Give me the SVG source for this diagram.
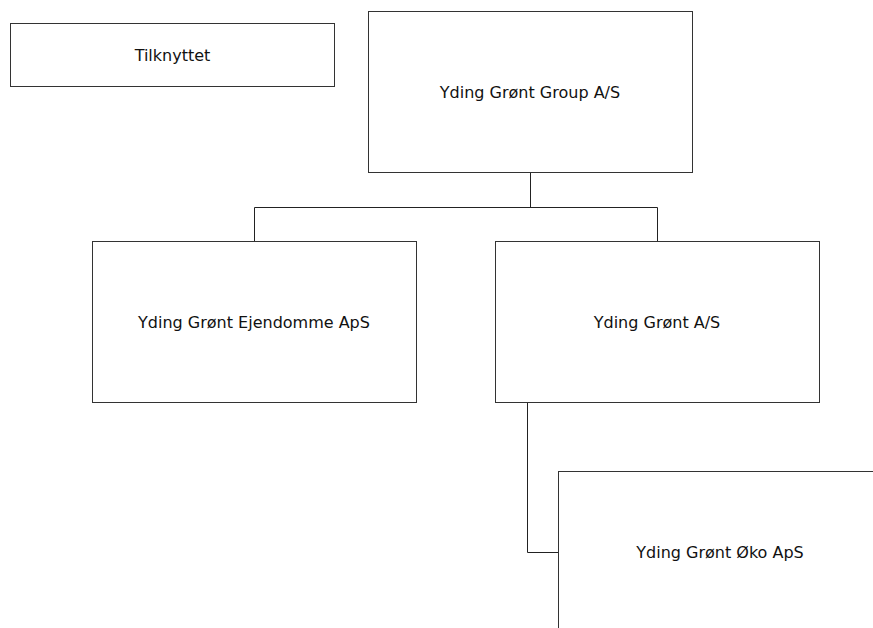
<svg xmlns="http://www.w3.org/2000/svg" width="873" height="628" viewBox="0 0 873 628">
<style>
.box{fill:#ffffff;stroke:#333333;stroke-width:1}
.lbl{font-family:"DejaVu Sans","Liberation Sans",sans-serif;font-size:16px;fill:#111111;text-anchor:middle}
.conn{fill:none;stroke:#222222;stroke-width:1}
</style>
<rect width="873" height="628" fill="#ffffff"/>
<g id="connectors">
<path class="conn" d="M530.5 173 V207.5 M254.5 207.5 H657.5 M254.5 207.5 V241 M657.5 207.5 V241"/>
<path class="conn" d="M527.5 403 V552.5 H558.5"/>
</g>
<g id="tilknyttet">
<rect class="box" x="10.5" y="23.5" width="324" height="63"/>
<text class="lbl" x="172.5" y="61">Tilknyttet</text>
</g>
<g id="group">
<rect class="box" x="368.5" y="11.5" width="324" height="161"/>
<text class="lbl" x="530" y="98">Yding Grønt Group A/S</text>
</g>
<g id="ejendomme">
<rect class="box" x="92.5" y="241.5" width="324" height="161"/>
<text class="lbl" x="254" y="328">Yding Grønt Ejendomme ApS</text>
</g>
<g id="ydinggront">
<rect class="box" x="495.5" y="241.5" width="324" height="161"/>
<text class="lbl" x="657" y="328">Yding Grønt A/S</text>
</g>
<g id="oko">
<rect class="box" x="558.5" y="471.5" width="324" height="161"/>
<text class="lbl" x="720" y="558">Yding Grønt Øko ApS</text>
</g>
</svg>
